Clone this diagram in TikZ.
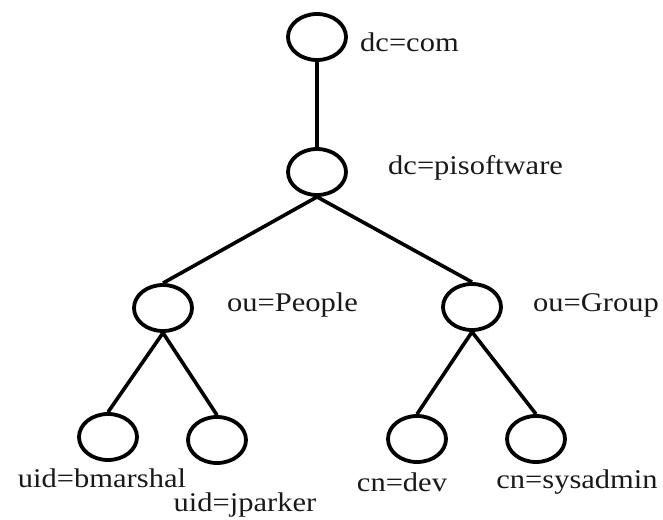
\documentclass[tikz,border=0pt]{standalone}
\usepackage{fontspec}
\newfontfamily\lblfont[FakeStretch=1.13]{Liberation Serif}
\usetikzlibrary{shapes.geometric}
\begin{document}
\begin{tikzpicture}[x=1pt,y=-1pt,
  ent/.style={ellipse,draw=black,line width=3.8pt,minimum width=58pt,minimum height=46pt,inner sep=0pt},
  lbl/.style={font=\lblfont\fontsize{27}{30}\selectfont,text=black!90,inner sep=0pt},
  link/.style={line width=3.6pt,black}]
\useasboundingbox (0,0) rectangle (663,519);
\node[ent] (com) at (317,37) {};
\node[ent] (pis) at (317,172) {};
\node[ent] (people) at (163,308) {};
\node[ent] (group) at (472,307) {};
\node[ent] (bm) at (108,437) {};
\node[ent] (jp) at (217,440) {};
\node[ent] (dev) at (417,439) {};
\node[ent] (sys) at (536,439) {};
\node[lbl,anchor=west] (tcom) at (360,42) {dc=com};
\node[lbl,anchor=west] (tpis) at (388,168) {dc=pisoftware};
\node[lbl,anchor=west] (tpeople) at (227,305) {ou=People};
\node[lbl,anchor=west] (tgroup) at (533,305) {ou=Group};
\node[lbl] (tbm) at (102,478) {uid=bmarshal};
\node[lbl] (tjp) at (245,505) {uid=jparker};
\node[lbl] (tdev) at (402,482) {cn=dev};
\node[lbl] (tsys) at (577,482) {cn=sysadmin};
\draw[link] (com.south) -- (pis.north);
\draw[link] (pis.south) -- (people.north);
\draw[link] (pis.south) -- (group.north);
\draw[link] (people.south) -- (bm.north);
\draw[link] (people.south) -- (jp.north);
\draw[link] (group.south) -- (dev.north);
\draw[link] (group.south) -- (sys.north);
\end{tikzpicture}
\end{document}
